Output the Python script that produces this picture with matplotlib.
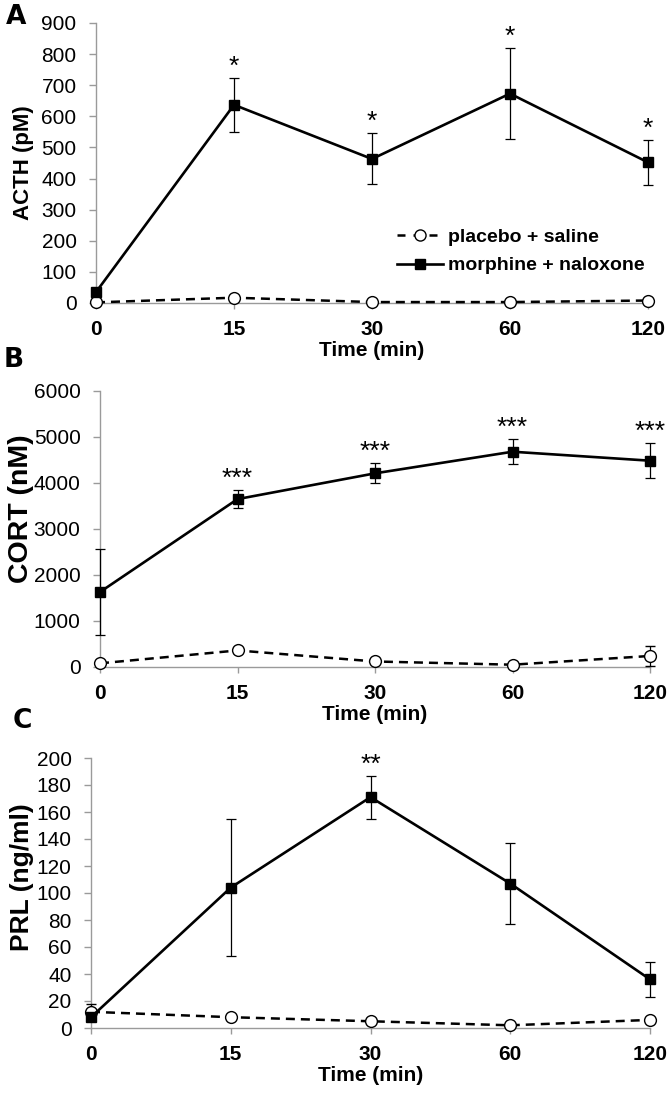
import matplotlib
matplotlib.use('Agg')
import matplotlib.pyplot as plt
from matplotlib.lines import Line2D

plt.rcParams['font.family'] = ['Liberation Sans', 'DejaVu Sans']

times = ['0', '15', '30', '60', '120']

# ACTH (pM)
acth_pla = [2, 17, 3, 3, 8]
acth_pla_err = [2, 3, 2, 2, 3]
acth_mor = [35, 637, 463, 673, 452]
acth_mor_err = [8, 87, 82, 146, 73]
acth_sig = ['', '*', '*', '*', '*']

# CORT (nM)
cort_pla = [80, 360, 120, 50, 240]
cort_pla_err = [30, 50, 40, 20, 220]
cort_mor = [1630, 3650, 4210, 4680, 4485]
cort_mor_err = [945, 200, 215, 270, 375]
cort_sig = ['', '***', '***', '***', '***']

# PRL (ng/ml)
prl_pla = [12, 8, 5, 2, 6]
prl_pla_err = [6, 1, 1, 1, 1]
prl_mor = [8, 104, 171, 107, 36]
prl_mor_err = [2, 51, 16, 30, 13]
prl_sig = ['', '', '**', '', '']

W, H = 672, 1101
fig = plt.figure(figsize=(W / 100, H / 100), dpi=100)

grey = '#9a9a9a'


def panel(rect, pla, pla_err, mor, mor_err, sig, ymax, ystep, ylabel, ylsize, ylpos,
          letter, legend=False):
    l, r, t, b = rect
    ax = fig.add_axes([l / W, 1 - b / H, (r - l) / W, (b - t) / H])
    x = list(range(len(times)))
    ax.errorbar(x, pla, yerr=pla_err, color='black', lw=1.8, ls=(0, (3.6, 2.4)),
                marker='o', ms=8.5, mfc='white', mec='black', mew=1.0,
                ecolor='black', elinewidth=0.9, capsize=3.3, capthick=0.9,
                clip_on=False, zorder=3)
    ax.errorbar(x, mor, yerr=mor_err, color='black', lw=1.9, ls='-',
                marker='s', ms=6.8, mfc='black', mec='black',
                ecolor='black', elinewidth=0.9, capsize=3.3, capthick=0.9,
                clip_on=False, zorder=4)
    for xi, m, e, s in zip(x, mor, mor_err, sig):
        if s:
            ax.annotate(s, (xi, m + e), xytext=(0, 3), textcoords='offset points',
                        ha='center', va='baseline', fontsize=19, annotation_clip=False)
    ax.set_xlim(0, len(times) - 1)
    ax.set_ylim(0, ymax)
    ax.set_yticks(range(0, ymax + 1, ystep))
    ax.set_xticks(x)
    ax.set_xticklabels(times, fontweight='bold')
    for sp in ['top', 'right']:
        ax.spines[sp].set_visible(False)
    for sp in ['left', 'bottom']:
        ax.spines[sp].set_color(grey)
        ax.spines[sp].set_linewidth(1.0)
    ax.tick_params(axis='y', direction='out', length=5, width=1, color=grey,
                   labelsize=15, pad=9)
    ax.tick_params(axis='x', direction='out', length=4.5, width=1, color=grey,
                   labelsize=15, pad=8)
    ax.set_xlabel('Time (min)', fontsize=15, fontweight='bold', labelpad=1)
    ax.set_ylabel(ylabel, fontsize=ylsize, fontweight='bold')
    ax.yaxis.set_label_coords((34 - l) / (r - l), ylpos)
    fig.text(letter[1] / W, 1 - letter[2] / H, letter[0], fontsize=19,
             fontweight='bold', family='DejaVu Sans', ha='left', va='center')
    if legend:
        hs = [Line2D([], [], color='black', lw=1.8, ls=(0, (3.2, 3.2)), marker='o',
                     ms=8, mfc='white', mec='black', mew=1.0),
              Line2D([], [], color='black', lw=1.9, marker='s', ms=6.8, mfc='black')]
        ax.legend(hs, ['placebo + saline', 'morphine + naloxone'],
                  loc='center left', bbox_to_anchor=(0.545, 0.184), frameon=False,
                  prop={'weight': 'bold', 'size': 14}, handlelength=2.37,
                  handletextpad=0.27, labelspacing=0.55, borderpad=0, borderaxespad=0)
    return ax


panel((96, 648, 23, 303), acth_pla, acth_pla_err, acth_mor, acth_mor_err, acth_sig,
      900, 100, 'ACTH (pM)', 16, 0.5, ('A', 6, 17), legend=True)
panel((100, 650, 391, 667), cort_pla, cort_pla_err, cort_mor, cort_mor_err, cort_sig,
      6000, 1000, 'CORT (nM)', 20.5, 0.575, ('B', 4, 360))
panel((91, 650, 758, 1028), prl_pla, prl_pla_err, prl_mor, prl_mor_err, prl_sig,
      200, 20, 'PRL (ng/ml)', 19, 0.56, ('C', 13, 721))

fig.savefig('out.png', dpi=100)
